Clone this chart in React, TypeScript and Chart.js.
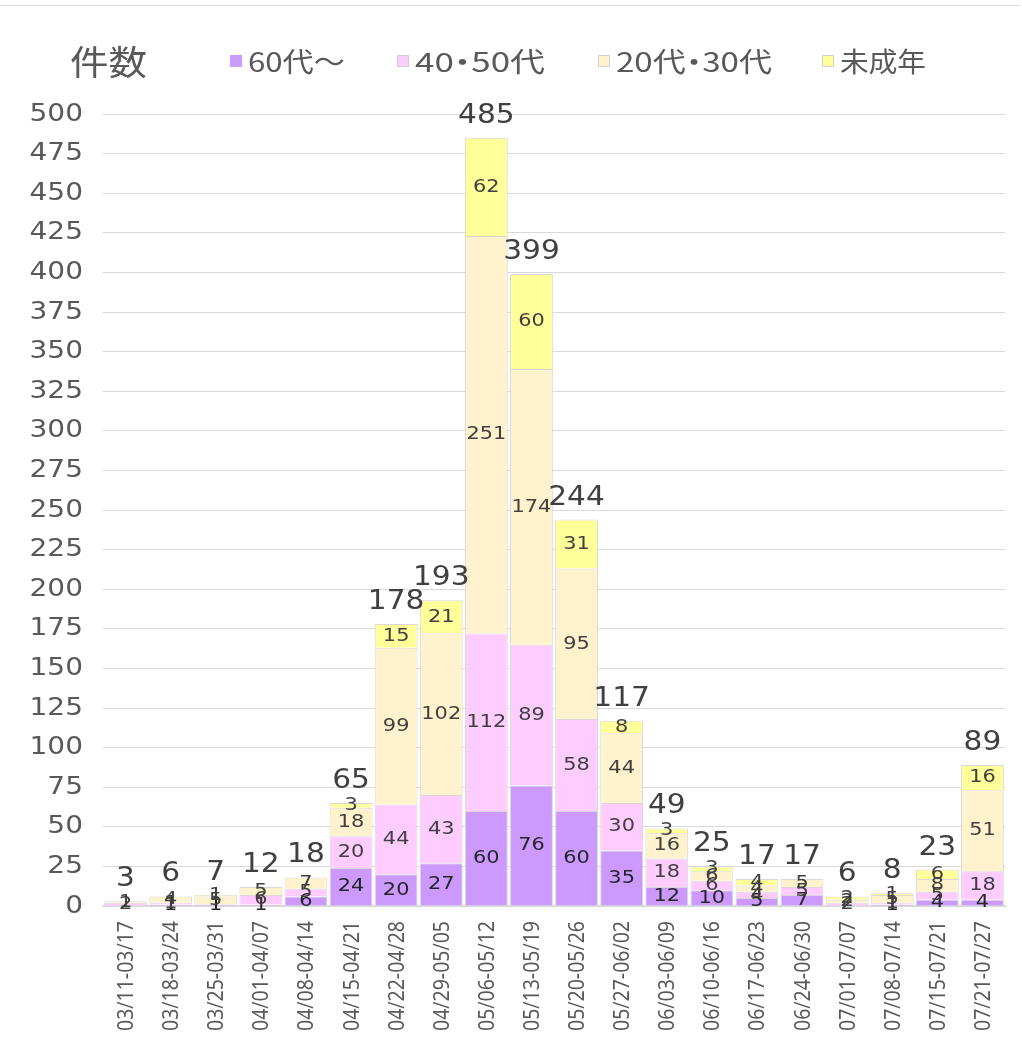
import React, { useEffect, useRef } from "react";
import { Chart, registerables } from "chart.js";

Chart.register(...registerables);

const W = 1022;
const H = 1051;

const categories = [
  "03/11-03/17", "03/18-03/24", "03/25-03/31", "04/01-04/07", "04/08-04/14",
  "04/15-04/21", "04/22-04/28", "04/29-05/05", "05/06-05/12", "05/13-05/19",
  "05/20-05/26", "05/27-06/02", "06/03-06/09", "06/10-06/16", "06/17-06/23",
  "06/24-06/30", "07/01-07/07", "07/08-07/14", "07/15-07/21", "07/21-07/27",
];

const seriesNames = ["60代～", "40・50代", "20代・30代", "未成年"];
const s60 = [0, 1, 1, 1, 6, 24, 20, 27, 60, 76, 60, 35, 12, 10, 5, 7, 0, 1, 4, 4];
const s4050 = [2, 1, 0, 6, 5, 20, 44, 43, 112, 89, 58, 30, 18, 6, 4, 5, 2, 1, 5, 18];
const s2030 = [1, 4, 5, 5, 7, 18, 99, 102, 251, 174, 95, 44, 16, 6, 4, 5, 2, 5, 8, 51];
const sMinor = [0, 0, 1, 0, 0, 3, 15, 21, 62, 60, 31, 8, 3, 3, 4, 0, 2, 1, 6, 16];
const totals = [3, 6, 7, 12, 18, 65, 178, 193, 485, 399, 244, 117, 49, 25, 17, 17, 6, 8, 23, 89];

const yTicks = [0, 25, 50, 75, 100, 125, 150, 175, 200, 225, 250, 275, 300, 325, 350, 375, 400, 425, 450, 475, 500];

const colors = ["#cc99ff", "#ffccff", "#fff2cc", "#ffff99"];
const labelColors = ["#262626", "#404040", "#404040", "#404040"];

const NUM_FONT = "'DejaVu Sans', sans-serif";
const CJK_FONT = "'Noto Sans CJK JP', sans-serif";
const XL_FONT = "'Noto Sans', sans-serif";

function drawText(
  ctx: CanvasRenderingContext2D,
  s: string,
  x: number,
  y: number,
  font: string,
  color: string,
  align: CanvasTextAlign,
  sx: number,
  baseline: CanvasTextBaseline = "middle"
) {
  ctx.save();
  ctx.font = font;
  ctx.fillStyle = color;
  ctx.textAlign = align;
  ctx.textBaseline = baseline;
  ctx.translate(x, y);
  ctx.scale(sx, 1);
  ctx.fillText(s, 0, 0);
  ctx.restore();
}

// draws a label with a narrow slot for the middle dot, stretched to a target width
function drawLegendLabel(
  ctx: CanvasRenderingContext2D,
  s: string,
  x: number,
  y: number,
  size: number,
  color: string,
  target: number
) {
  const font = `${size}px ${CJK_FONT}`;
  ctx.save();
  ctx.font = font;
  const parts = s.split("・");
  const dotSlot = size * 0.5;
  const widths = parts.map((p) => ctx.measureText(p).width);
  const natural = widths.reduce((a, b) => a + b, 0) + dotSlot * (parts.length - 1);
  const sx = target / natural;
  ctx.fillStyle = color;
  ctx.textBaseline = "middle";
  ctx.translate(x, y);
  ctx.scale(sx, 1);
  let cx = 0;
  parts.forEach((p, i) => {
    ctx.textAlign = "left";
    ctx.fillText(p, cx, 0);
    cx += widths[i];
    if (i < parts.length - 1) {
      ctx.textAlign = "center";
      ctx.fillText("・", cx + dotSlot / 2, 0);
      cx += dotSlot;
    }
  });
  ctx.restore();
}

const overlay = {
  id: "overlay",
  afterDraw(chart: any) {
    const ctx: CanvasRenderingContext2D = chart.ctx;
    const xs = chart.scales.x;
    const ys = chart.scales.y;

    // top rule
    ctx.save();
    ctx.strokeStyle = "#d9d9d9";
    ctx.lineWidth = 1;
    ctx.beginPath();
    ctx.moveTo(0, 5.5);
    ctx.lineTo(1020, 5.5);
    ctx.stroke();
    ctx.restore();

    // title
    drawLegendLabel(ctx, "件数", 70, 62, 34, "#595959", 77);

    // legend
    const legX = [230, 397, 598, 822];
    const legW = [97, 130, 156, 86];
    seriesNames.forEach((n, i) => {
      ctx.save();
      ctx.fillStyle = colors[i];
      ctx.fillRect(legX[i], 55, 12, 12);
      if (i > 0) {
        ctx.strokeStyle = "#d0d0d0";
        ctx.lineWidth = 1;
        ctx.strokeRect(legX[i] + 0.5, 55.5, 11, 11);
      }
      ctx.restore();
      drawLegendLabel(ctx, n, legX[i] + 18, 62, 27, "#595959", legW[i]);
    });

    // y ticks
    yTicks.forEach((v) => {
      drawText(ctx, String(v), 83, ys.getPixelForValue(v), `25px ${NUM_FONT}`, "#595959", "right", 1.12);
    });

    // x labels
    ctx.save();
    ctx.font = `21px ${XL_FONT}`;
    const lw = ctx.measureText(categories[0]).width;
    ctx.restore();
    const xsx = 110 / lw;
    categories.forEach((c, i) => {
      const x = xs.getPixelForValue(i) + 1.5;
      ctx.save();
      ctx.translate(x, 921);
      ctx.rotate(-Math.PI / 2);
      ctx.scale(xsx, 1);
      ctx.font = `21px ${XL_FONT}`;
      ctx.fillStyle = "#595959";
      ctx.textAlign = "right";
      ctx.textBaseline = "middle";
      ctx.fillText(c, 0, 0);
      ctx.restore();
    });

    // segment labels
    chart.data.datasets.forEach((ds: any, di: number) => {
      const meta = chart.getDatasetMeta(di);
      meta.data.forEach((bar: any, j: number) => {
        const v = ds.data[j];
        if (!v) return;
        const cy = (bar.y + bar.base) / 2;
        drawText(ctx, String(v), bar.x, cy, `18px ${NUM_FONT}`, labelColors[di], "center", 1.16);
      });
    });

    // totals
    const topMeta = chart.getDatasetMeta(chart.data.datasets.length - 1);
    topMeta.data.forEach((bar: any, j: number) => {
      const top = ys.getPixelForValue(totals[j]);
      drawText(ctx, String(totals[j]), bar.x, top - 15, `26px ${NUM_FONT}`, "#404040", "center", 1.14, "alphabetic");
    });
  },
};

export default function App() {
  const ref = useRef<HTMLCanvasElement>(null);
  useEffect(() => {
    document.body.style.margin = "0";
    const canvas = ref.current!;
    const series = [s60, s4050, s2030, sMinor];
    const chart = new Chart(canvas, {
      type: "bar",
      data: {
        labels: categories,
        datasets: series.map((d, i) => ({
          label: seriesNames[i],
          data: d,
          backgroundColor: colors[i],
          borderColor: "#d9d9d9",
          borderWidth: 1,
          barPercentage: 0.95,
          categoryPercentage: 1,
        })),
      },
      options: {
        responsive: false,
        animation: false,
        devicePixelRatio: 1,
        layout: { padding: { left: 0, right: 17, top: 114, bottom: 0 } },
        plugins: { legend: { display: false }, tooltip: { enabled: false } },
        scales: {
          x: {
            stacked: true,
            grid: { display: false },
            border: { display: true, color: "#d9d9d9", width: 2 },
            ticks: { display: false },
            afterFit: (s: any) => {
              s.height = 145;
            },
          },
          y: {
            stacked: true,
            min: 0,
            max: 500,
            ticks: { display: false, stepSize: 25 },
            grid: { color: "#d9d9d9", drawTicks: false },
            border: { display: false },
            afterFit: (s: any) => {
              s.width = 103;
            },
          },
        },
      } as any,
      plugins: [overlay],
    });
    return () => chart.destroy();
  }, []);
  return <canvas ref={ref} width={W} height={H} style={{ display: "block" }} />;
}
